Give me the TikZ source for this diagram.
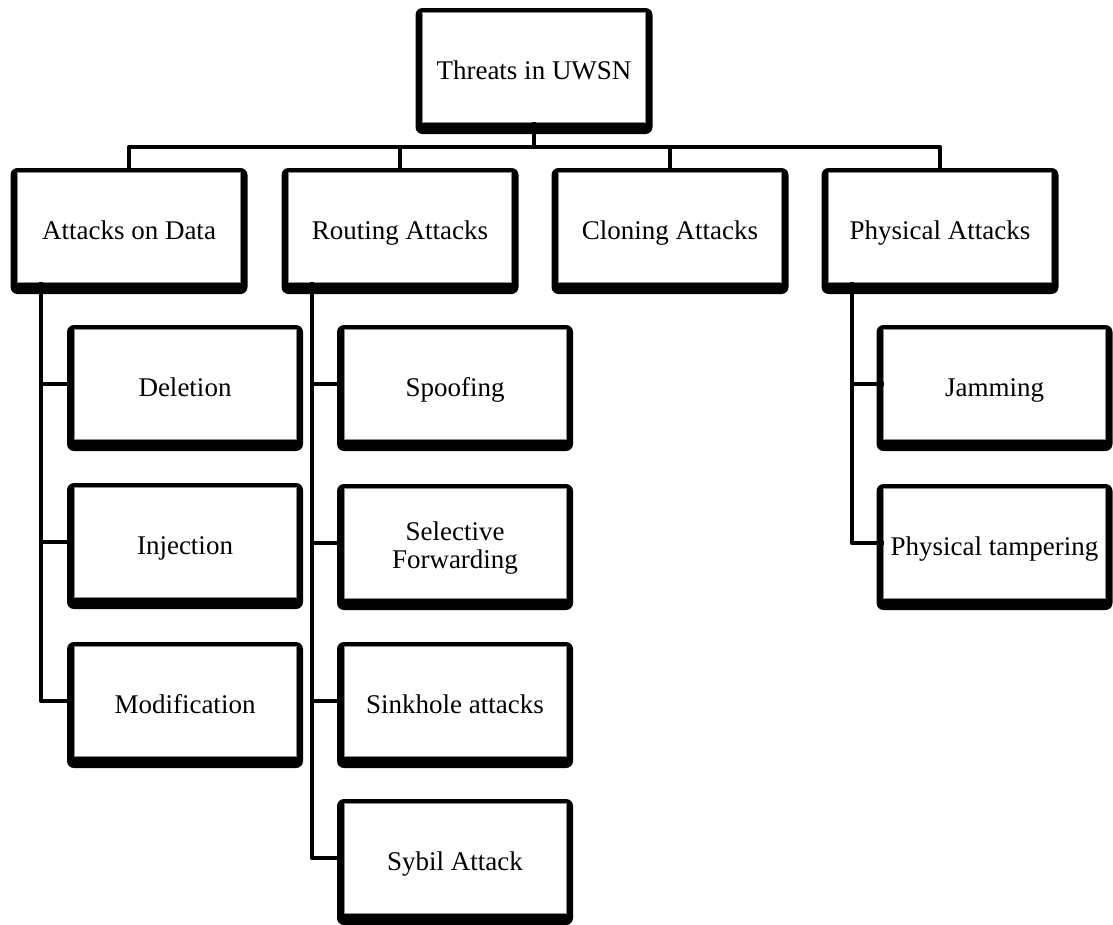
\documentclass[tikz,border=0pt]{standalone}
\usepackage{fontspec}
\setmainfont{Liberation Serif}
\usetikzlibrary{calc,backgrounds}
\tikzset{
  tbox/.style={rectangle, fill=white, draw=black!45, line width=0.8pt, inner sep=0pt, outer sep=0pt,
    minimum height=110pt, align=center, font=\fontsize{27}{28}\selectfont,
    text height=24pt, text depth=0pt},
  twoline/.style={text height=50pt, text depth=0pt},
  mainbox/.style={tbox, minimum width=223pt},
  subbox/.style={tbox, minimum width=222pt},
  conn/.style={draw=black, line width=4.5pt, line join=round},
  frame/.style={fill=black, rounded corners=7pt}
}
\begin{document}
\begin{tikzpicture}[x=1pt,y=-1pt]
\useasboundingbox (0,0) rectangle (1113,924);
% top level
\node[mainbox] (top) at (534,67) {Threats in UWSN};
\node[mainbox] (data) at (129,227) {Attacks on Data};
\node[mainbox] (rout) at (400,227) {Routing Attacks};
\node[mainbox] (clon) at (670,227) {Cloning Attacks};
\node[mainbox] (phys) at (940,227) {Physical Attacks};
% data sub
\node[subbox] (del) at (185,384) {Deletion};
\node[subbox] (inj) at (185,542) {Injection};
\node[subbox] (mod) at (185,701) {Modification};
% routing sub
\node[subbox] (spo) at (455,384) {Spoofing};
\node[subbox, twoline] (sel) at (455,543) {Selective\\Forwarding};
\node[subbox] (sin) at (455,701) {Sinkhole attacks};
\node[subbox] (syb) at (455,858) {Sybil Attack};
% physical sub
\node[subbox] (jam) at (994.5,384) {Jamming};
\node[subbox] (tam) at (994.5,543) {Physical tampering};
% frames
\begin{scope}[on background layer]
\foreach \n in {top,data,rout,clon,phys,del,inj,mod,spo,sel,sin,syb,jam,tam}
  \fill[frame] ($(\n.south west)+(-7,12)$) rectangle ($(\n.north east)+(7,-4)$);
\end{scope}
% connectors
\coordinate (bus) at (0,147);
\coordinate (dvx) at (41,0);
\coordinate (rvx) at (312,0);
\coordinate (pvx) at (852,0);
\draw[conn] (top.south) -- (top.south |- bus);
\draw[conn] (data.north) -- (data.north |- bus) -- (phys.north |- bus) -- (phys.north);
\draw[conn] (rout.north) -- (rout.north |- bus);
\draw[conn] (clon.north) -- (clon.north |- bus);
\draw[conn] (data.south -| dvx) |- (mod.west);
\draw[conn] (dvx |- del.west) -- (del.west);
\draw[conn] (dvx |- inj.west) -- (inj.west);
\draw[conn] (rout.south -| rvx) |- (syb.west);
\draw[conn] (rvx |- spo.west) -- (spo.west);
\draw[conn] (rvx |- sel.west) -- (sel.west);
\draw[conn] (rvx |- sin.west) -- (sin.west);
\draw[conn] (phys.south -| pvx) |- (tam.west);
\draw[conn] (pvx |- jam.west) -- (jam.west);
\end{tikzpicture}
\end{document}
